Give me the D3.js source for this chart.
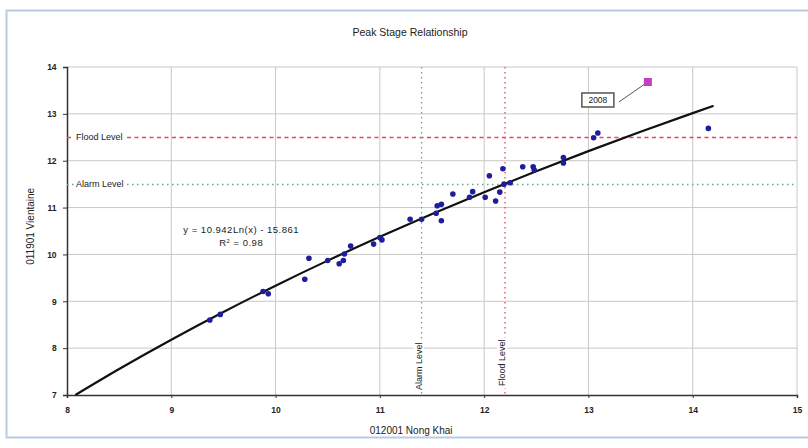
<!DOCTYPE html>
<html>
<head>
<meta charset="utf-8">
<script src="https://cdn.jsdelivr.net/npm/d3@7"></script>
<style>
  body { margin: 0; background: #fff; }
  text { font-family: "Liberation Sans", Arial, sans-serif; }
</style>
</head>
<body>
<div id="chart"></div>
<script>
// observed peak stages (Nong Khai, Vientiane)
var nongKhai = [9.37, 9.47, 9.88, 9.93, 10.28, 10.32, 10.50, 10.61, 10.65, 10.66, 10.72, 10.94, 11.00, 11.02,
  11.29, 11.40, 11.54, 11.55, 11.59, 11.59, 11.70, 11.86, 11.89, 12.01, 12.05, 12.11, 12.15, 12.18, 12.19,
  12.25, 12.37, 12.47, 12.48, 12.76, 12.76, 13.05, 13.09, 14.15];
var vientiane = [8.60, 8.72, 9.21, 9.16, 9.47, 9.92, 9.87, 9.80, 9.87, 10.01, 10.18, 10.22, 10.36, 10.31,
  10.75, 10.75, 10.88, 11.04, 11.07, 10.72, 11.29, 11.22, 11.34, 11.22, 11.68, 11.14, 11.33, 11.83, 11.50,
  11.53, 11.87, 11.87, 11.80, 12.07, 11.95, 12.49, 12.59, 12.69];

var point2008 = {x: 13.57, y: 13.68, label: "2008"};

// trend: y = 10.942 Ln(x) - 15.861
var trendA = 10.942, trendB = -15.861;
var trendX = [8.08, 8.5, 9, 9.5, 10, 10.5, 11, 11.5, 12, 12.5, 13, 13.5, 14, 14.2];

var xTicks = [8, 9, 10, 11, 12, 13, 14, 15];
var yTicks = [7, 8, 9, 10, 11, 12, 13, 14];

var alarmLevel = {x: 11.4, y: 11.5};
var floodLevel = {x: 12.2, y: 12.5};

var W = 808, H = 448;
var margin = {top: 67, right: 11, bottom: 53, left: 67},
    width = W - margin.left - margin.right,
    height = H - margin.top - margin.bottom;

var root = d3.select("#chart").append("svg")
    .attr("width", W).attr("height", H);

// outer frame
root.append("rect")
    .attr("x", 6.5).attr("y", 10.5).attr("width", 820).attr("height", 427)
    .attr("fill", "#fff").attr("stroke", "#b9cbe3").attr("stroke-width", 2);

root.append("text")
    .attr("x", 410).attr("y", 36)
    .attr("text-anchor", "middle")
    .attr("font-size", 10.5).attr("fill", "#222")
    .text("Peak Stage Relationship");

var svg = root.append("g")
    .attr("transform", "translate(" + margin.left + "," + margin.top + ")");

var x = d3.scaleLinear().domain([8, 15]).range([0, width]);
var y = d3.scaleLinear().domain([7, 14]).range([height, 0]);

// grid
svg.append("g").selectAll("line.gx")
    .data(xTicks.slice(1))
    .enter().append("line")
    .attr("x1", d => x(d)).attr("x2", d => x(d))
    .attr("y1", 0).attr("y2", height)
    .attr("stroke", "#c8c8c8").attr("stroke-width", 1);
svg.append("g").selectAll("line.gy")
    .data(yTicks.slice(1))
    .enter().append("line")
    .attr("x1", 0).attr("x2", width)
    .attr("y1", d => y(d)).attr("y2", d => y(d))
    .attr("stroke", "#c8c8c8").attr("stroke-width", 1);

// axes
var xAxis = svg.append("g")
    .attr("transform", "translate(0," + height + ")")
    .call(d3.axisBottom(x).tickValues(xTicks).tickFormat(d3.format("d")).tickSize(3));
var yAxis = svg.append("g")
    .call(d3.axisLeft(y).tickValues(yTicks).tickFormat(d3.format("d")).tickSize(4));
[xAxis, yAxis].forEach(function(a) {
  a.select(".domain").attr("stroke", "#333").attr("stroke-width", 1.5);
  a.selectAll(".tick line").attr("stroke", "#333");
  a.selectAll(".tick text").attr("font-size", 8.5).attr("fill", "#222").attr("font-weight", "bold")
    .attr("font-family", "Liberation Sans, Arial, sans-serif");
});
xAxis.selectAll(".tick text").attr("dy", "1.4em");
yAxis.selectAll(".tick text").attr("dx", "-0.4em");

// level lines
svg.append("line")
    .attr("x1", 0).attr("x2", width)
    .attr("y1", Math.round(y(floodLevel.y)) + 0.5).attr("y2", Math.round(y(floodLevel.y)) + 0.5)
    .attr("stroke", "#f2434d").attr("stroke-width", 1.3).attr("stroke-dasharray", "4,3.5");
svg.append("line")
    .attr("x1", 0).attr("x2", width)
    .attr("y1", Math.round(y(alarmLevel.y)) + 0.5).attr("y2", Math.round(y(alarmLevel.y)) + 0.5)
    .attr("stroke", "#5fae85").attr("stroke-width", 1.3).attr("stroke-dasharray", "1.5,3.5");
svg.append("line")
    .attr("x1", x(alarmLevel.x)).attr("x2", x(alarmLevel.x))
    .attr("y1", 0).attr("y2", height)
    .attr("stroke", "#5fae85").attr("stroke-width", 1.3).attr("stroke-dasharray", "1.5,3.5");
svg.append("line")
    .attr("x1", x(floodLevel.x)).attr("x2", x(floodLevel.x))
    .attr("y1", 0).attr("y2", height)
    .attr("stroke", "#f2434d").attr("stroke-width", 1.3).attr("stroke-dasharray", "1.5,3.5");

// level labels
function label(tx, ty, txt, rot) {
  var g = svg.append("g").attr("transform", "translate(" + tx + "," + ty + ")" + (rot ? " rotate(-90)" : ""));
  var t = g.append("text").attr("font-size", 9).attr("fill", "#222").attr("dy", "0.35em").text(txt);
  var b = t.node().getBBox();
  g.insert("rect", "text").attr("x", b.x - 2).attr("y", b.y).attr("width", b.width + 4).attr("height", b.height)
    .attr("fill", "#fff");
}
label(x(8) + 9, y(floodLevel.y), "Flood Level", false);
label(x(8) + 9, y(alarmLevel.y), "Alarm Level", false);
label(x(alarmLevel.x) - 3, height - 5, "Alarm Level", true);
label(x(floodLevel.x) - 3, height - 9, "Flood Level", true);

// trend line
var line = d3.line().x(d => x(d)).y(d => y(trendA * Math.log(d) + trendB)).curve(d3.curveMonotoneX);
svg.append("path")
    .datum(trendX)
    .attr("d", line)
    .attr("fill", "none").attr("stroke", "#111").attr("stroke-width", 2.2);

// equation
svg.append("text").attr("x", x(9.67)).attr("y", y(10.46))
    .attr("text-anchor", "middle").attr("font-size", 9.5).attr("letter-spacing", 0.5).attr("fill", "#222")
    .text("y = 10.942Ln(x) - 15.861");
var r2 = svg.append("text").attr("x", x(9.67)).attr("y", y(10.19))
    .attr("text-anchor", "middle").attr("font-size", 9.5).attr("letter-spacing", 0.5).attr("fill", "#222");
r2.append("tspan").text("R");
r2.append("tspan").attr("dy", -3).attr("font-size", 6).text("2");
r2.append("tspan").attr("dy", 3).text(" = 0.98");

// points
svg.append("g").selectAll("circle")
    .data(nongKhai)
    .enter().append("circle")
    .attr("cx", (d, i) => x(d))
    .attr("cy", (d, i) => y(vientiane[i]))
    .attr("r", 2.8)
    .attr("fill", "#1f1d9c");

// 2008 point with callout
var px = x(point2008.x), py = y(point2008.y);
svg.append("line")
    .attr("x1", px - 3).attr("y1", py + 2).attr("x2", px - 29).attr("y2", py + 20)
    .attr("stroke", "#555").attr("stroke-width", 1);
svg.append("rect")
    .attr("x", px - 4).attr("y", py - 4).attr("width", 8).attr("height", 8)
    .attr("fill", "#c43fbf");
svg.append("rect")
    .attr("x", px - 66).attr("y", py + 11).attr("width", 32).attr("height", 14)
    .attr("fill", "#fff").attr("stroke", "#555").attr("stroke-width", 1.5);
svg.append("text")
    .attr("x", px - 50).attr("y", py + 21.5)
    .attr("text-anchor", "middle").attr("font-size", 8.5).attr("fill", "#222")
    .text(point2008.label);

// axis titles
root.append("text")
    .attr("x", margin.left + x(11.3)).attr("y", 434)
    .attr("text-anchor", "middle").attr("font-size", 10).attr("fill", "#222")
    .text("012001 Nong Khai");
root.append("text")
    .attr("transform", "translate(34," + (margin.top + y(10.6)) + ") rotate(-90)")
    .attr("text-anchor", "middle").attr("font-size", 10).attr("fill", "#222")
    .text("011901 Vientaine");
</script>
</body>
</html>
